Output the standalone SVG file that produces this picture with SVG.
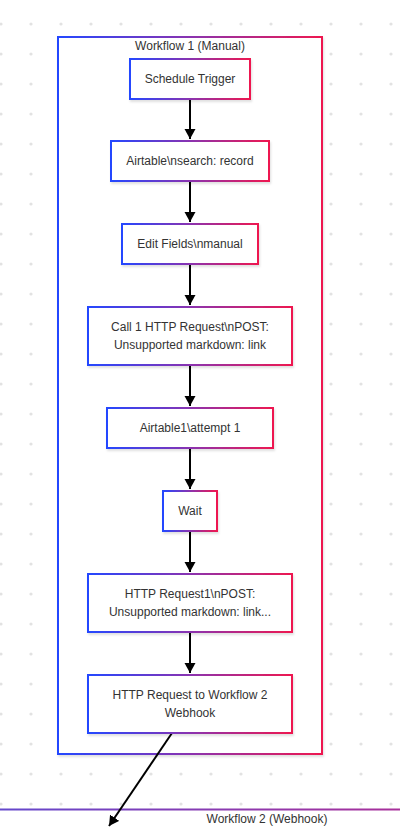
<svg xmlns="http://www.w3.org/2000/svg" width="400" height="828" viewBox="0 0 400 828">
<defs>
<pattern id="dots" x="-14" y="9" width="30" height="30" patternUnits="userSpaceOnUse">
<circle cx="15" cy="15" r="1.6" fill="#e2e2e2"/>
</pattern>
<linearGradient id="grad" x1="0" y1="0" x2="1" y2="0">
<stop offset="0" stop-color="#2447ff"/>
<stop offset="0.5" stop-color="#8a33b0"/>
<stop offset="1" stop-color="#ee1850"/>
</linearGradient>
<linearGradient id="grad2" gradientUnits="userSpaceOnUse" x1="0" y1="0" x2="400" y2="0">
<stop offset="0" stop-color="#6448cc"/>
<stop offset="1" stop-color="#a8309a"/>
</linearGradient>
<filter id="sh" x="-10%" y="-10%" width="125%" height="130%">
<feDropShadow dx="1" dy="2" stdDeviation="1.2" flood-color="#000" flood-opacity="0.12"/>
</filter>
<marker id="arr" markerUnits="userSpaceOnUse" markerWidth="12" markerHeight="12" refX="10" refY="6" orient="auto">
<path d="M0,0.5 L10,6 L0,11.5 z" fill="#000"/>
</marker>
<style>
.node rect{fill:#fff;stroke:url(#grad);stroke-width:2;filter:url(#sh)}
.node text, .lbl{font-family:"Liberation Sans",Arial,sans-serif;font-size:12px;fill:#333;text-anchor:middle}
.edge{fill:none;stroke:#000;stroke-width:2;marker-end:url(#arr)}
</style>
</defs>
<rect width="400" height="828" fill="#fff"/>
<rect width="400" height="828" fill="url(#dots)"/>
<g id="workflow2">
<line x1="0" y1="809.5" x2="400" y2="809.5" stroke="url(#grad2)" stroke-width="2"/>
<text class="lbl" x="267" y="823">Workflow 2 (Webhook)</text>
</g>
<g id="workflow1">
<rect x="58" y="37" width="264" height="717" fill="#fff" stroke="url(#grad)" stroke-width="2" filter="url(#sh)"/>
<text class="lbl" x="190" y="50">Workflow 1 (Manual)</text>
</g>
<g id="connectors">
<path class="edge" d="M190,99 L190,139"/>
<path class="edge" d="M190,181 L190,222"/>
<path class="edge" d="M190,264 L190,305"/>
<path class="edge" d="M190,365 L190,406"/>
<path class="edge" d="M190,448 L190,489"/>
<path class="edge" d="M190,531 L190,572"/>
<path class="edge" d="M190,632 L190,673"/>
<path class="edge" d="M172,733 L109,826"/>
</g>
<g id="n1" class="node"><rect x="130" y="59" width="120" height="40"/><text x="190" y="83">Schedule Trigger</text></g>
<g id="n2" class="node"><rect x="111" y="141" width="158" height="40"/><text x="190" y="165">Airtable\nsearch: record</text></g>
<g id="n3" class="node"><rect x="122" y="224" width="136" height="40"/><text x="190" y="248">Edit Fields\nmanual</text></g>
<g id="n4" class="node"><rect x="88" y="307" width="204" height="58"/><text x="190" y="331">Call 1 HTTP Request\nPOST:</text><text x="190" y="349">Unsupported markdown: link</text></g>
<g id="n5" class="node"><rect x="107" y="408" width="166" height="40"/><text x="190" y="432">Airtable1\attempt 1</text></g>
<g id="n6" class="node"><rect x="163" y="491" width="54" height="40"/><text x="190" y="515">Wait</text></g>
<g id="n7" class="node"><rect x="88" y="574" width="204" height="58"/><text x="190" y="598">HTTP Request1\nPOST:</text><text x="190" y="616">Unsupported markdown: link...</text></g>
<g id="n8" class="node"><rect x="88" y="675" width="204" height="58"/><text x="190" y="699">HTTP Request to Workflow 2</text><text x="190" y="717">Webhook</text></g>
</svg>
